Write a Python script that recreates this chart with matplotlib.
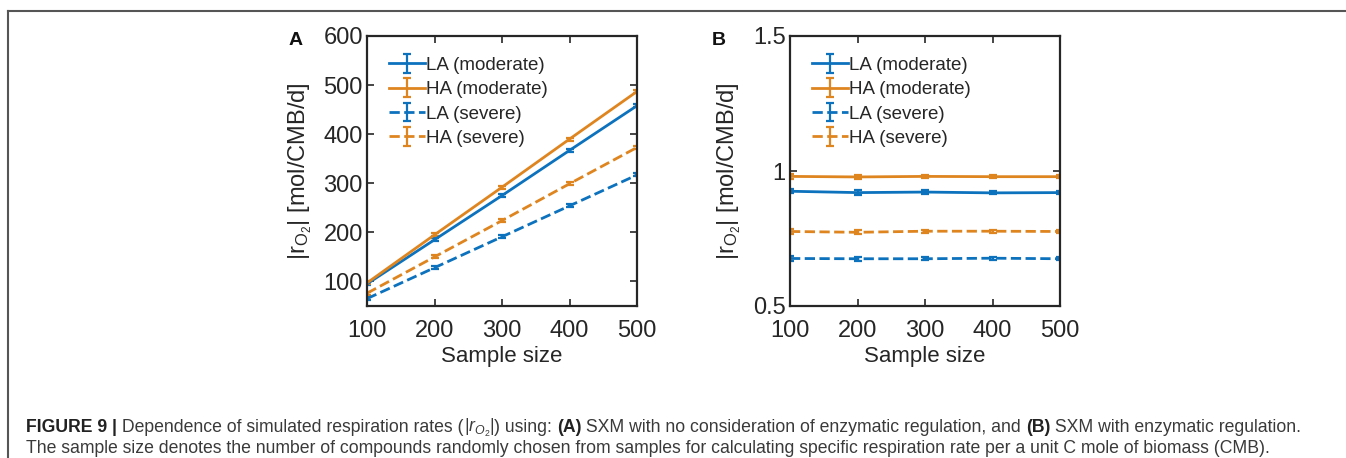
import matplotlib
matplotlib.use('Agg')
import matplotlib.pyplot as plt

plt.rcParams['font.family'] = ['Liberation Sans', 'DejaVu Sans']
plt.rcParams['mathtext.fontset'] = 'custom'
plt.rcParams['mathtext.rm'] = 'Liberation Sans'
plt.rcParams['mathtext.it'] = 'Liberation Sans:italic'
plt.rcParams['mathtext.bf'] = 'Liberation Sans:bold'

sample_size = [100, 200, 300, 400, 500]
series_names = ['LA (moderate)', 'HA (moderate)', 'LA (severe)', 'HA (severe)']

# panel A: no enzymatic regulation
a_la_mod = [95, 185, 275, 367, 458]
a_ha_mod = [97, 195, 292, 390, 487]
a_la_sev = [65, 128, 191, 254, 317]
a_ha_sev = [76, 150, 224, 299, 373]
a_err = [3, 3, 3, 3, 3]

# panel B: with enzymatic regulation
b_la_mod = [0.925, 0.920, 0.922, 0.919, 0.920]
b_ha_mod = [0.980, 0.978, 0.980, 0.979, 0.979]
b_la_sev = [0.676, 0.675, 0.675, 0.677, 0.675]
b_ha_sev = [0.776, 0.773, 0.777, 0.777, 0.776]
b_err = [0.008, 0.008, 0.006, 0.006, 0.006]

BLUE = '#0d72bd'
ORANGE = '#df8520'
AXC = '#262626'

fig = plt.figure(figsize=(13.46, 4.58), dpi=100)

# outer frame (top and left lines)
fig.add_artist(plt.Line2D([8 / 1346, 1], [1 - 11 / 458, 1 - 11 / 458],
                          color='#555555', lw=1.5, transform=fig.transFigure))
fig.add_artist(plt.Line2D([8 / 1346, 8 / 1346], [0, 1 - 11 / 458],
                          color='#555555', lw=1.5, transform=fig.transFigure))

ax_a = fig.add_axes([367 / 1346, 1 - 306 / 458, 270 / 1346, 270 / 458])
ax_b = fig.add_axes([790 / 1346, 1 - 306 / 458, 270 / 1346, 270 / 458])


def draw_panel(ax, series, err, ylim, yticks, yticklabels, letter):
    styles = [(BLUE, '-'), (ORANGE, '-'), (BLUE, '--'), (ORANGE, '--')]
    for vals, name, (c, ls) in zip(series, series_names, styles):
        ax.errorbar(sample_size, vals, yerr=err, color=c, ls=ls, lw=2,
                    elinewidth=1.6, capsize=3, capthick=1.6, label=name)
    ax.set_xlim(100, 500)
    ax.set_ylim(*ylim)
    ax.set_xticks(sample_size)
    ax.set_yticks(yticks)
    ax.set_yticklabels(yticklabels)
    ax.tick_params(direction='in', top=True, right=True, length=5, width=1.2,
                   labelsize=17, colors=AXC)
    ax.tick_params(axis='x', pad=10)
    ax.tick_params(axis='y', pad=3)
    for s in ax.spines.values():
        s.set_linewidth(1.6)
        s.set_color(AXC)
    ax.set_xlabel('Sample size', fontsize=16, color=AXC, labelpad=3)
    ax.set_ylabel(r'|r$_{\mathrm{O}_2}$| [mol/CMB/d]', fontsize=17,
                  color=AXC, labelpad=7)
    leg = ax.legend(loc='upper left', bbox_to_anchor=(0.02, 0.985), frameon=False,
                    fontsize=13.5, handlelength=1.9, handletextpad=0.05,
                    labelspacing=0.38, borderaxespad=0.5)
    for t in leg.get_texts():
        t.set_color(AXC)
    ax.text(-0.29, 0.985, letter, transform=ax.transAxes, fontsize=14,
            fontweight='bold', color='#111111', ha='left', va='center')


draw_panel(ax_a, [a_la_mod, a_ha_mod, a_la_sev, a_ha_sev], a_err,
           (50, 600), [100, 200, 300, 400, 500, 600],
           ['100', '200', '300', '400', '500', '600'], 'A')
draw_panel(ax_b, [b_la_mod, b_ha_mod, b_la_sev, b_ha_sev], b_err,
           (0.5, 1.5), [0.5, 1.0, 1.5], ['0.5', '1', '1.5'], 'B')

# caption, built from chained text pieces on a shared baseline
cap = fig.add_axes([0, 0, 1, 1])
cap.axis('off')
CAPC = '#3a3a3a'
FS = 12.7
base1 = 1 - 432 / 458
pieces1 = [
    ('FIGURE 9 |', 'bold', '#222222'),
    (' Dependence of simulated respiration rates (', 'normal', CAPC),
    (r'|$r_{O_2}$|', 'normal', CAPC),
    (') using: ', 'normal', CAPC),
    ('(A)', 'bold', '#222222'),
    (' SXM with no consideration of enzymatic regulation, and ', 'normal', CAPC),
    ('(B)', 'bold', '#222222'),
    (' SXM with enzymatic regulation.', 'normal', CAPC),
]
prev = None
for txt, w, c in pieces1:
    if prev is None:
        prev = cap.text(26 / 1346, base1, txt, fontsize=FS, fontweight=w,
                        color=c, va='baseline', ha='left')
    else:
        prev = cap.annotate(txt, xy=(1, base1), xycoords=(prev, 'figure fraction'),
                            fontsize=FS, fontweight=w, color=c,
                            va='baseline', ha='left')
cap.text(26 / 1346, 1 - 453 / 458,
         'The sample size denotes the number of compounds randomly chosen from samples '
         'for calculating specific respiration rate per a unit C mole of biomass (CMB).',
         fontsize=FS, color=CAPC, va='baseline', ha='left')

fig.savefig('out.png', dpi=100)
